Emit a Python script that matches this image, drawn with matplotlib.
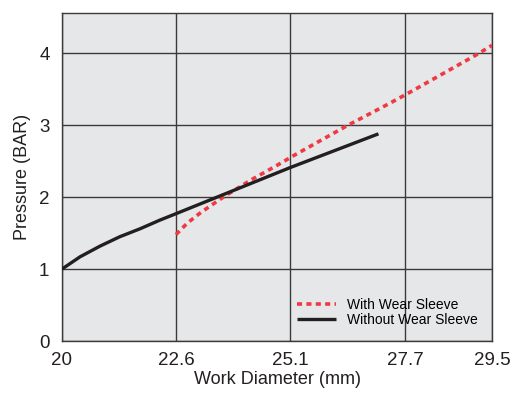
import numpy as np
import matplotlib
matplotlib.use("Agg")
import matplotlib.pyplot as plt

plt.rcParams['font.family'] = ['Liberation Sans', 'DejaVu Sans']

# Data
x_ticks = [20, 22.6, 25.1, 27.7, 29.5]
tick_pos = [0, 114, 228, 343, 430]   # uneven spacing of the printed axis

without_x = [20.0, 20.41, 20.87, 21.32, 21.78, 22.23, 22.6, 23.46, 25.1, 27.1]
without_y = [1.0, 1.17, 1.32, 1.45, 1.56, 1.68, 1.77, 1.99, 2.41, 2.88]

with_x = [22.6, 22.85, 23.11, 23.38, 23.66, 24.22, 24.81, 25.19, 26.38, 27.34, 27.78, 29.18, 29.5]
with_y = [1.48, 1.64, 1.77, 1.89, 2.01, 2.23, 2.44, 2.58, 2.99, 3.30, 3.45, 3.98, 4.11]

def fwd(x):
    return np.interp(x, x_ticks, tick_pos)

def inv(p):
    return np.interp(p, tick_pos, x_ticks)

fig = plt.figure(figsize=(5.13, 3.97), dpi=100)
ax = fig.add_axes([62 / 513, 56 / 397, 430 / 513, 328 / 397])
ax.set_facecolor('#e6e7e9')
ax.set_xscale('function', functions=(fwd, inv))

ax.plot(with_x, with_y, color='#ef3a44', linewidth=2.6,
        linestyle=(0, (1.4, 1.2)), dash_capstyle='butt',
        label='With Wear Sleeve', zorder=3)
ax.plot(without_x, without_y, color='#231f20', linewidth=2.4,
        solid_capstyle='butt', label='Without Wear Sleeve', zorder=4)

ax.set_xlim(20, 29.5)
ax.set_ylim(0, 4.56)
ax.set_xticks(x_ticks, labels=['20', '22.6', '25.1', '27.7', '29.5'])
ax.set_yticks([0, 1, 2, 3, 4])
ax.tick_params(length=0, labelsize=13.5, colors='#231f20', pad=8)
ax.tick_params(axis='y', pad=9)
ax.grid(True, color='#3a3a3a', linewidth=1.0)
ax.set_axisbelow(True)
for s in ax.spines.values():
    s.set_color('#3a3a3a')
    s.set_linewidth(1.0)

ax.set_xlabel('Work Diameter (mm)', fontsize=13, color='#231f20', labelpad=1)
ax.set_ylabel('Pressure (BAR)', fontsize=13, color='#231f20', labelpad=6)

ax.legend(loc='lower right', bbox_to_anchor=(1.0, 0.0), frameon=False,
          fontsize=10, handlelength=2.8, handletextpad=0.8,
          labelspacing=0.1, borderaxespad=0.6)

fig.savefig('out.png', dpi=100)
